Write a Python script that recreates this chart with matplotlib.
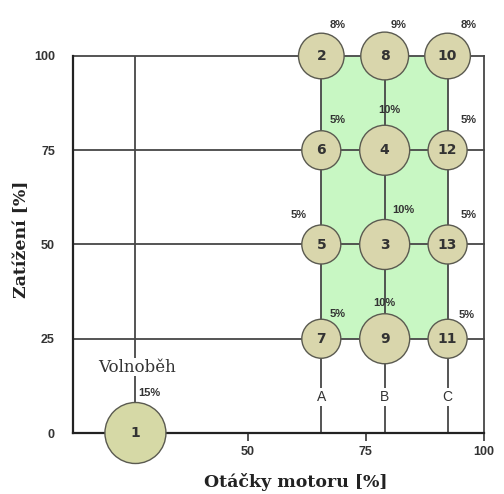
import matplotlib
matplotlib.use("Agg")
import matplotlib.pyplot as plt
import matplotlib.patches as mpatches

# test points: number, engine speed [%], load [%], weight [%]
point_no = [1, 2, 3, 4, 5, 6, 7, 8, 9, 10, 11, 12, 13]
speed = [26.3, 65.6, 79.0, 79.0, 65.6, 65.6, 65.6, 79.0, 79.0, 92.3, 92.3, 92.3, 92.3]
load = [0, 100, 50, 75, 50, 75, 25, 100, 25, 100, 25, 75, 50]
weight = [15, 8, 10, 10, 5, 5, 5, 9, 10, 8, 5, 5, 5]

speed_names = ["A", "B", "C"]
speed_ABC = [65.6, 79.0, 92.3]
idle_speed = 26.3
load_levels = [25, 50, 75, 100]
x_ticks = [50, 75, 100]
y_ticks = [0, 25, 50, 75, 100]

# where the % label sits relative to its circle (data units)
pct_offset = {1: (0.6, 10.6), 2: (3.5, 8.2), 3: (4.0, 9.2), 4: (0.9, 10.7),
              5: (-4.8, 7.8), 6: (3.5, 8.0), 7: (3.5, 6.6), 8: (3.0, 8.2),
              9: (0.0, 9.5), 10: (4.5, 8.2), 11: (4.0, 6.3), 12: (4.5, 8.0),
              13: (4.5, 7.8)}

GRID = "#474747"
GREEN = "#c8f7c3"
CIRCLE = "#d9d6ac"
CIRCLE_EDGE = "#5a5a50"
TXT = "#333333"

fig = plt.figure(figsize=(5.04, 4.94), dpi=100)
ax = fig.add_axes([73 / 504, 61 / 494, 411 / 504, 377 / 494])
ax.set_xlim(13.1, 100)
ax.set_ylim(0, 100)

# green working area
ax.add_patch(mpatches.Rectangle((speed_ABC[0], 25), speed_ABC[-1] - speed_ABC[0], 75,
                                facecolor=GREEN, edgecolor="none", zorder=0))

# grid lines
for y in load_levels:
    ax.plot([13.1, 100], [y, y], color=GRID, lw=1.3, zorder=1, clip_on=False)
ax.plot([100, 100], [0, 100], color=GRID, lw=1.3, zorder=1, clip_on=False)
ax.plot([idle_speed, idle_speed], [0, 100], color=GRID, lw=1.3, zorder=1)
for s in speed_ABC:
    ax.plot([s, s], [0, 100], color=GRID, lw=1.3, zorder=1)

# circles
radius_px = [14 + 1.1 * w for w in weight]
sizes = [(2 * r * 0.72) ** 2 for r in radius_px]
colors = ["#d6d9a6" if n == 1 else CIRCLE for n in point_no]
ax.scatter(speed, load, s=sizes, c=colors, edgecolors=CIRCLE_EDGE, linewidths=1.0,
           zorder=3, clip_on=False)

for n, x, y, w in zip(point_no, speed, load, weight):
    ax.text(x, y, str(n), ha="center", va="center", fontsize=10, fontweight="bold",
            color=TXT, family="DejaVu Sans", zorder=4)
    dx, dy = pct_offset[n]
    ax.text(x + dx, y + dy, f"{w}%", ha="left" if n == 1 else "center", va="center",
            fontsize=8, fontweight="bold", color=TXT, family="Liberation Sans",
            zorder=4, clip_on=False)

# speed labels
for name, s in zip(speed_names, speed_ABC):
    ax.text(s, 9.5, name, ha="center", va="center", fontsize=10, color=TXT,
            family="Liberation Sans", zorder=2,
            bbox=dict(facecolor="white", edgecolor="none", pad=1.5))
ax.text(idle_speed + 0.3, 17.5, "Volnoběh", ha="center", va="center", fontsize=12,
        color="#333333", family="DejaVu Serif", zorder=2,
        bbox=dict(facecolor="white", edgecolor="none", pad=0.5))

# axes
for side in ["top", "right"]:
    ax.spines[side].set_visible(False)
for side in ["left", "bottom"]:
    ax.spines[side].set_color("#222222")
    ax.spines[side].set_linewidth(1.6)
    ax.spines[side].set_zorder(2)
ax.set_xticks(x_ticks)
ax.set_yticks(y_ticks)
ax.set_xticklabels([str(t) for t in x_ticks], fontweight="bold", family="Liberation Sans")
ax.set_yticklabels([str(t) for t in y_ticks], fontweight="bold", family="Liberation Sans")
ax.tick_params(axis="x", direction="out", length=6, width=1.2, colors=TXT,
               labelsize=9, pad=3)
ax.tick_params(axis="y", length=0, colors=TXT, labelsize=9, pad=13)

fig.text(296 / 504, 1 - 482 / 494, "Otáčky motoru [%]", ha="center", va="center",
         fontsize=12.5, fontweight="bold", family="DejaVu Serif", color="#222222")
fig.text(22 / 504, 1 - 239 / 494, "Zatížení [%]", ha="center", va="center",
         rotation=90, fontsize=12.5, fontweight="bold", family="DejaVu Serif",
         color="#222222")

fig.savefig("out.png", dpi=100)
